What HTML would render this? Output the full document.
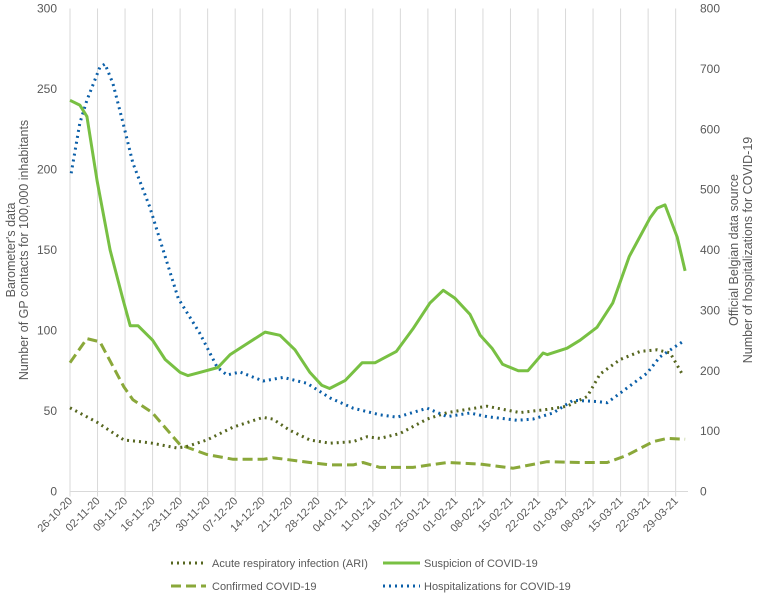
<!DOCTYPE html>
<html><head><meta charset="utf-8"><style>
body{margin:0;background:#fff;}
svg text{font-family:"Liberation Sans",sans-serif;fill:#595959;}
</style></head><body>
<svg id="chart" width="760" height="597" viewBox="0 0 760 597" xmlns="http://www.w3.org/2000/svg">
<g id="grid"></g>
<g id="axes"></g>
<g id="series"></g>
<text transform="translate(15,250) rotate(-90)" text-anchor="middle" font-size="12.5">Barometer's data</text>
<text transform="translate(28,250) rotate(-90)" text-anchor="middle" font-size="12.5">Number of GP contacts for 100,000 inhabitants</text>
<text transform="translate(738,250) rotate(-90)" text-anchor="middle" font-size="12.5">Official Belgian data source</text>
<text transform="translate(752,250) rotate(-90)" text-anchor="middle" font-size="12.5">Number of hospitalizations for COVID-19</text>
<g>
<line x1="171" y1="563" x2="206" y2="563" stroke="#56661f" stroke-width="3" stroke-dasharray="2 4"/>
<text x="212" y="567" font-size="11">Acute respiratory infection (ARI)</text>
<line x1="383" y1="563" x2="420" y2="563" stroke="#78c043" stroke-width="3"/>
<text x="424" y="567" font-size="11">Suspicion of COVID-19</text>
<line x1="171" y1="586" x2="206" y2="586" stroke="#8aa83a" stroke-width="3" stroke-dasharray="10 5"/>
<text x="212" y="590" font-size="11">Confirmed COVID-19</text>
<line x1="383" y1="586" x2="420" y2="586" stroke="#0b5fa8" stroke-width="3" stroke-dasharray="2 4"/>
<text x="424" y="590" font-size="11">Hospitalizations for COVID-19</text>
</g>
</svg>
<script>
const weekLabels=["26-10-20","02-11-20","09-11-20","16-11-20","23-11-20","30-11-20","07-12-20","14-12-20","21-12-20","28-12-20","04-01-21","11-01-21","18-01-21","25-01-21","01-02-21","08-02-21","15-02-21","22-02-21","01-03-21","08-03-21","15-03-21","22-03-21","29-03-21"];
const leftTicks=[0,50,100,150,200,250,300];
const rightTicks=[0,100,200,300,400,500,600,700,800];
const suspDays=[0,2.5,4.3,6.9,10.2,13.5,15.3,17.3,21,24.2,28,30,33,37.6,40.7,44.5,49.6,53.4,57.2,61,64,66,70,74.3,77.6,83,87.2,91.5,94.9,97.9,101.7,104.3,107.3,110,114,116.4,120.3,121.4,126.4,129.7,134,138,142.2,147.5,149.3,151.3,154.4,156.4];
const suspVals=[243,240,233,193,150,119,103,103,94,82,74,72,74,77,85,91,99,97,88,74,66,64,69,80,80,87,101,117,125,120,110,97,89,79,75,75,86,85,89,94,102,117,146,170,176,178,158,137];
const ariDays=[0,6.9,13.7,17.8,20.9,27.2,29.8,34.8,41.5,49.1,51.6,55.9,61,66.1,72,75.5,78.8,83.9,90.8,95.9,106,114.4,121.3,126.4,131.5,134.8,139.9,145,149.3,152.6,155.9];
const ariVals=[52,43,32,31,30,27,28,32,40,46,45,38,32,30,31,34,33,36,45,49,53,49,51,53,59,73,82,87,88,86,72];
const confDays=[0,4.3,7.6,13.7,16,20.9,28,34.8,41.5,49.1,51.6,61,66.1,72,74.5,78.8,87.2,91.5,95.9,104.3,112.7,121.3,129.7,136.6,141.6,148.3,151.8,156.4];
const confVals=[80,95,93,65,57,49,29,23,20,20,21,18,16.5,16.5,18,15,15,16.5,18,17,14.5,18.5,18,18,22.5,31,33,32.5];
const hospDays=[0.3,2.5,4.3,7.6,8.9,10.9,13.5,16,20.3,22.9,27.5,33,37.4,39.9,43.2,49.1,54.2,60.3,66.1,72,78.8,83.2,90.8,95.9,101.7,106,113.7,117.7,122.8,127.9,134,136.6,139.9,146.7,150,156.4];
const hospVals=[527,610,648,703,708,676,610,544,471,416,320,262,206,193,198,183,189,179,155,138,127,123,138,124,130,124,118,120,130,151,149,147,163,196,223,251];

const NS="http://www.w3.org/2000/svg";
const X0=70,WEEK=27.53,Y0=491.5,YTOP=8.5,XR=688;
const xDay=d=>X0+d/7*WEEK;
const yL=v=>Y0-(v/300)*(Y0-YTOP);
const yR=v=>Y0-(v/800)*(Y0-YTOP);
function mk(tag,attrs,parent){const e=document.createElementNS(NS,tag);for(const k in attrs)e.setAttribute(k,attrs[k]);parent.appendChild(e);return e;}
const grid=document.getElementById('grid'),axes=document.getElementById('axes'),series=document.getElementById('series');
weekLabels.forEach((lab,i)=>{
  const x=X0+i*WEEK;
  const g=mk('line',{x1:x,y1:YTOP,x2:x,y2:Y0+5,stroke:'#d9d9d9','stroke-width':1},grid);
  
  
  const t=mk('text',{transform:`translate(${x+3},${Y0+10}) rotate(-45)`,'text-anchor':'end','font-size':'11'},axes);
  t.textContent=lab;
  
  
});
const ax=mk('line',{x1:X0,y1:Y0,x2:XR,y2:Y0,stroke:'#d9d9d9','stroke-width':1},axes);


leftTicks.forEach(v=>{
  const t=mk('text',{x:57,y:yL(v)+4,'text-anchor':'end','font-size':'12'},axes);
  t.textContent=v;
  
  
});
rightTicks.forEach(v=>{
  const t=mk('text',{x:700,y:yR(v)+4,'text-anchor':'start','font-size':'12'},axes);
  t.textContent=v;
  
  
});
function pathOf(days,vals,yf){return days.map((d,i)=>(i?'L':'M')+xDay(d).toFixed(1)+' '+yf(vals[i]).toFixed(1)).join(' ');}
const pC=mk('path',{d:pathOf(confDays,confVals,yL),fill:'none',stroke:'#8aa83a','stroke-width':3,'stroke-dasharray':'10 5','stroke-linejoin':'round'},series);


const pA=mk('path',{d:pathOf(ariDays,ariVals,yL),fill:'none',stroke:'#56661f','stroke-width':3,'stroke-dasharray':'2 4','stroke-linejoin':'round'},series);


const pH=mk('path',{d:pathOf(hospDays,hospVals,yR),fill:'none',stroke:'#0b5fa8','stroke-width':3,'stroke-dasharray':'2 4','stroke-linejoin':'round'},series);


const pS=mk('path',{d:pathOf(suspDays,suspVals,yL),fill:'none',stroke:'#78c043','stroke-width':3,'stroke-linejoin':'round'},series);


</script>
</body></html>
